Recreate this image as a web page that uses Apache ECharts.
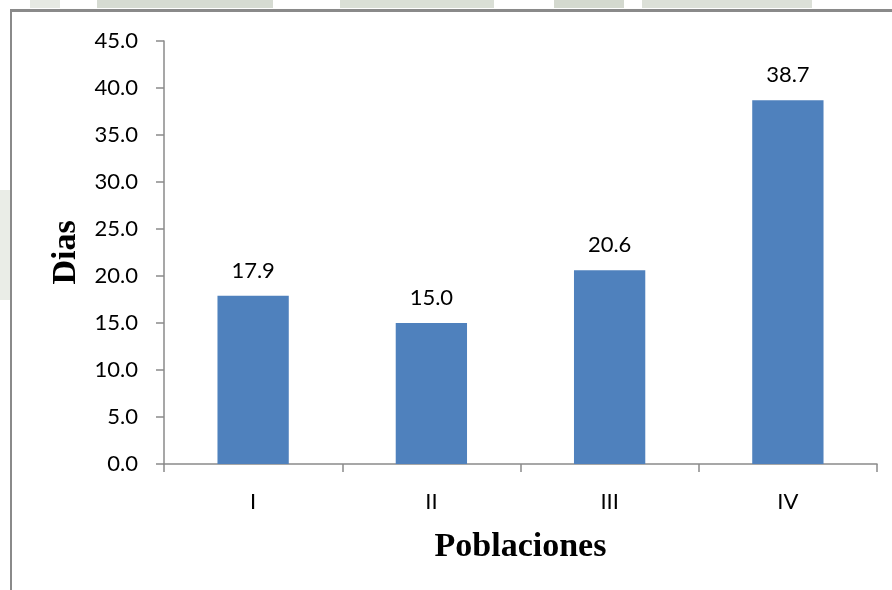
<!DOCTYPE html>
<html>
<head>
<meta charset="utf-8">
<style>
  html, body { margin: 0; padding: 0; background: #ffffff; }
  #chart { width: 892px; height: 590px; }
</style>
<script src="https://cdn.jsdelivr.net/npm/echarts@6/dist/echarts.min.js"></script>
</head>
<body>
<div id="chart"></div>
<script>
// Populations and mean days
const categories = ['I', 'II', 'III', 'IV'];
const dias = [17.9, 15.0, 20.6, 38.7];
const yTicks = { min: 0, max: 45, interval: 5 };

const AXIS_GRAY = '#8a8a8a';
const BAR_BLUE = '#4f81bd';

const chart = echarts.init(document.getElementById('chart'), null, { renderer: 'canvas' });

// faint logo shapes peeking out around the chart frame
const logoBits = [
  [30, 0, 30, 8, '#e6e9e3'],
  [97, 0, 176, 8, '#d6dbd2'],
  [340, 0, 154, 8, '#dadfd6'],
  [554, 0, 70, 8, '#d4d9cf'],
  [642, 0, 170, 8, '#dce0d8'],
  [0, 190, 10, 110, '#eaede7']
].map(([x, y, w, h, c]) => ({
  type: 'rect', silent: true, z: 1,
  shape: { x, y, width: w, height: h },
  style: { fill: c }
}));

// chart frame: top and left edges only, the rest runs off the page
const frameEdges = [
  { type: 'rect', silent: true, z: 100, shape: { x: 10, y: 9, width: 882, height: 3 }, style: { fill: AXIS_GRAY } },
  { type: 'rect', silent: true, z: 100, shape: { x: 10, y: 9, width: 2, height: 581 }, style: { fill: AXIS_GRAY } }
];

chart.setOption({
  backgroundColor: '#ffffff',
  animation: false,
  graphic: { elements: logoBits.concat(frameEdges) },
  grid: { left: 164, right: 15, top: 41, bottom: 126, containLabel: false },
  xAxis: {
    type: 'category',
    data: categories,
    name: 'Poblaciones',
    nameLocation: 'middle',
    nameGap: 66,
    nameTextStyle: { fontFamily: 'Liberation Serif', fontWeight: 'bold', fontSize: 34, color: '#000000' },
    axisLine: { show: true, lineStyle: { color: AXIS_GRAY, width: 1.5 } },
    axisTick: { show: true, alignWithLabel: false, length: 8, lineStyle: { color: AXIS_GRAY, width: 1.5 } },
    axisLabel: { fontFamily: 'Lato', fontSize: 22, color: '#000000', margin: 27 },
    splitLine: { show: false }
  },
  yAxis: {
    type: 'value',
    min: yTicks.min,
    max: yTicks.max,
    interval: yTicks.interval,
    name: 'Dias',
    nameLocation: 'middle',
    nameGap: 80,
    nameRotate: 90,
    nameTextStyle: { fontFamily: 'Liberation Serif', fontWeight: 'bold', fontSize: 34, color: '#000000' },
    axisLine: { show: true, lineStyle: { color: AXIS_GRAY, width: 1.5 } },
    axisTick: { show: true, length: 8, lineStyle: { color: AXIS_GRAY, width: 1.5 } },
    axisLabel: {
      fontFamily: 'Lato', fontSize: 22, color: '#000000', margin: 26,
      formatter: v => v.toFixed(1)
    },
    splitLine: { show: false }
  },
  series: [{
    type: 'bar',
    data: dias,
    barCategoryGap: '60%',
    itemStyle: { color: BAR_BLUE },
    label: {
      show: true,
      position: 'top',
      distance: 14,
      fontFamily: 'Lato',
      fontSize: 22,
      color: '#000000',
      formatter: p => p.value.toFixed(1)
    }
  }]
});
</script>
</body>
</html>
